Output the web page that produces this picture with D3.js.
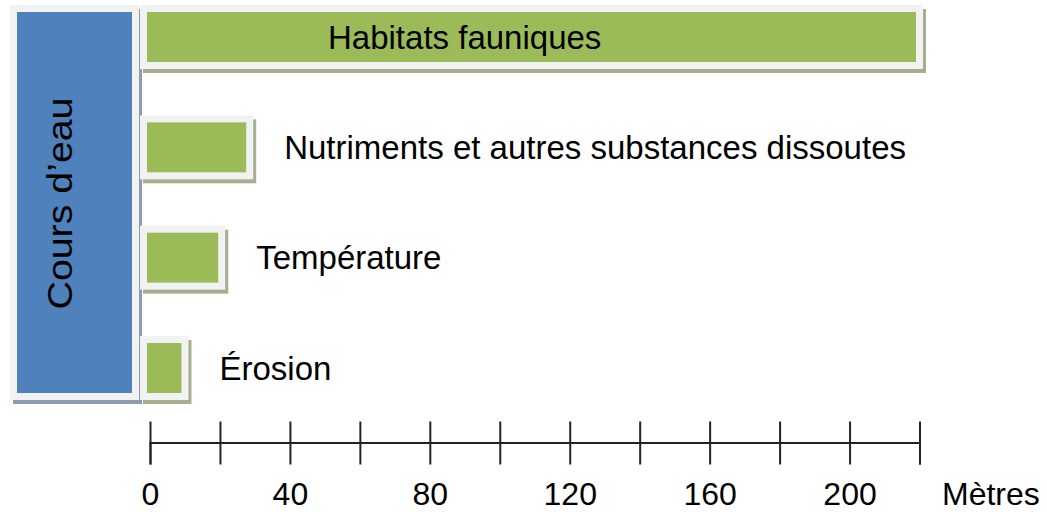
<!DOCTYPE html>
<html>
<head>
<meta charset="utf-8">
<script src="https://cdn.jsdelivr.net/npm/d3@7"></script>
<style>
  html, body { margin: 0; padding: 0; background: #ffffff; }
  svg { display: block; font-family: "Liberation Sans", Arial, sans-serif; }
</style>
</head>
<body>
<svg id="chart" width="1047" height="512"></svg>
<script>
// ---- data ----
const rootLabel = "Cours d\u2019eau";
const categories = ["Habitats fauniques", "Nutriments et autres substances dissoutes", "Température", "Érosion"];
const values = [219, 27.5, 19.5, 9];
const tickValues = [0, 20, 40, 60, 80, 100, 120, 140, 160, 180, 200, 220];
const tickLabels = [0, 40, 80, 120, 160, 200];
const unitLabel = "Mètres";

// ---- style ----
const green = "#9bbb59", blue = "#4f81bd", frameCol = "#f2f2f2";
const greenShadow = "#a5ae90", blueShadow = "#8e9bb2";
const pad = 7, sdx = 3, sdy = 4;
const fontSize = 33;
const axisFont = 32;

const svg = d3.select("#chart");
const x = d3.scaleLinear().domain([0, 220]).range([150, 919.5]);
const y = d3.scaleBand().domain(categories).range([12, 393]).paddingInner(0.547).paddingOuter(0);

// root (blue) box
const bx0 = 17, bx1 = 132;
const by0 = y.range()[0], by1 = y.range()[1];
svg.append("rect").attr("x", bx0 - pad + sdx).attr("y", by0 - pad + sdy)
  .attr("width", bx1 - bx0 + 2 * pad).attr("height", by1 - by0 + 2 * pad).attr("fill", blueShadow);
svg.append("rect").attr("x", bx0 - pad).attr("y", by0 - pad)
  .attr("width", bx1 - bx0 + 2 * pad).attr("height", by1 - by0 + 2 * pad).attr("fill", frameCol);
svg.append("rect").attr("x", bx0).attr("y", by0)
  .attr("width", bx1 - bx0).attr("height", by1 - by0).attr("fill", blue);
svg.append("text")
  .attr("transform", `translate(72,${(by0 + by1) / 2 + 1}) rotate(-90)`)
  .attr("text-anchor", "middle")
  .attr("font-size", 35)
  .attr("textLength", 212).attr("lengthAdjust", "spacingAndGlyphs")
  .attr("fill", "#000")
  .text(rootLabel);

// bars
const data = categories.map((c, i) => ({ c, v: values[i] }));
const g = svg.append("g");
const bx = d => x(0) - 3;
const bw = d => x(d.v) - (x(0) - 3);
g.selectAll("rect.shadow").data(data).join("rect").attr("class", "shadow")
  .attr("x", d => bx(d) - pad + sdx).attr("y", d => y(d.c) - pad + sdy)
  .attr("width", d => bw(d) + 2 * pad).attr("height", y.bandwidth() + 2 * pad)
  .attr("fill", greenShadow);
g.selectAll("rect.frame").data(data).join("rect").attr("class", "frame")
  .attr("x", d => bx(d) - pad).attr("y", d => y(d.c) - pad)
  .attr("width", d => bw(d) + 2 * pad).attr("height", y.bandwidth() + 2 * pad)
  .attr("fill", frameCol);
g.selectAll("rect.bar").data(data).join("rect").attr("class", "bar")
  .attr("x", d => bx(d)).attr("y", d => y(d.c))
  .attr("width", d => bw(d)).attr("height", y.bandwidth())
  .attr("fill", green);

// labels
g.selectAll("text.lbl").data(data).join("text").attr("class", "lbl")
  .attr("x", d => (x(d.v) + 400 > 1047) ? x(0) + 178 : x(d.v) + 38)
  .attr("y", d => y(d.c) + y.bandwidth() / 2 + fontSize * 0.358)
  .attr("font-size", fontSize)
  .attr("fill", "#000")
  .text(d => d.c);

// axis
const axisY = 442.5;
const axis = d3.axisBottom(x).tickValues(tickValues).tickSizeOuter(0).tickSize(22)
  .tickFormat(d => tickLabels.includes(d) ? d : "");
const ag = svg.append("g").attr("transform", `translate(0,${axisY})`).call(axis);
ag.select(".domain").attr("stroke", "#222").attr("stroke-width", 2);
ag.selectAll(".tick line").attr("y1", -21).attr("y2", 22).attr("stroke", "#222").attr("stroke-width", 2);
ag.selectAll(".tick text").attr("y", 62).attr("dy", null)
  .attr("font-size", axisFont).attr("font-family", "Liberation Sans, Arial, sans-serif").attr("fill", "#000");
svg.append("text").attr("x", 942).attr("y", axisY + 62)
  .attr("font-size", axisFont).attr("fill", "#000").text(unitLabel);
</script>
</body>
</html>
